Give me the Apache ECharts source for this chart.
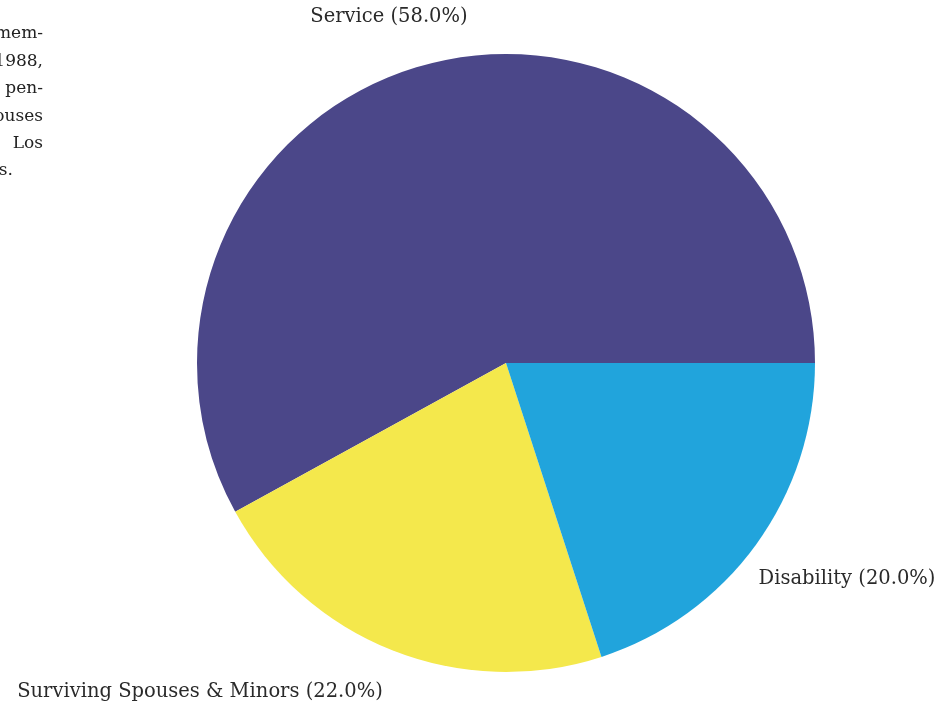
<!DOCTYPE html>
<html>
<head>
<meta charset="utf-8">
<script src="https://cdn.jsdelivr.net/npm/echarts@6/dist/echarts.min.js"></script>
<style>
  html, body { margin: 0; padding: 0; background: #ffffff; }
  #chart { width: 949px; height: 708px; }
</style>
</head>
<body>
<div id="chart"></div>
<script>
// Pension recipients by type
const categories = ['Service', 'Surviving Spouses & Minors', 'Disability'];
const shares = [58.0, 22.0, 20.0];
const sliceColors = ['#4b4789', '#f4e84c', '#21a4dc'];

// Text column running off the left edge of the page
const sideLines = ['mem-', '1988,', 'pen-', 'spouses', 'Los', 'Angeles.'];

const FONT = '"DejaVu Serif", "Liberation Serif", serif';

const chart = echarts.init(document.getElementById('chart'), null, { renderer: 'canvas' });

// Label anchor points per slice
const labelSpots = [
  { x: 389, y: 17 },
  { x: 200, y: 692 },
  { x: 847, y: 579 }
];

const sideGraphics = sideLines.map((t, i) => {
  const last = i === sideLines.length - 1;
  return {
    type: 'text',
    style: {
      text: t,
      x: last ? 13 : 43,
      y: 34 + i * 27.4,
      align: 'right',
      verticalAlign: 'middle',
      font: '17px ' + FONT,
      fill: '#222'
    }
  };
});

chart.setOption({
  backgroundColor: '#ffffff',
  animation: false,
  graphic: sideGraphics,
  series: [{
    type: 'pie',
    center: [506, 363],
    radius: 309,
    startAngle: 0,
    clockwise: false,
    silent: true,
    data: categories.map((c, i) => ({
      name: c,
      value: shares[i],
      itemStyle: { color: sliceColors[i] }
    })),
    label: {
      show: true,
      position: 'outside',
      formatter: p => p.name + ' (' + p.percent.toFixed(1) + '%)',
      fontFamily: FONT,
      fontSize: 19.5,
      color: '#2a2a2a',
      overflow: 'none',
      width: 420
    },
    labelLine: { show: false },
    labelLayout: params => ({
      x: labelSpots[params.dataIndex].x,
      y: labelSpots[params.dataIndex].y,
      align: 'center',
      verticalAlign: 'middle'
    })
  }]
});
</script>
</body>
</html>
